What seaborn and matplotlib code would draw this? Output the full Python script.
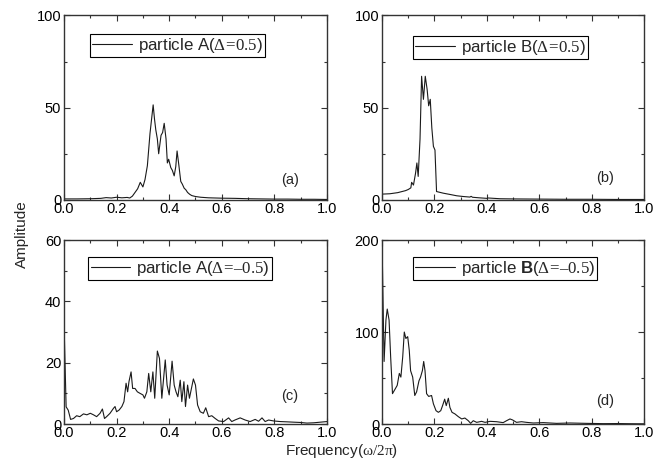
#imports
import numpy as np
import pandas as pd
import seaborn as sns
import matplotlib.pyplot as plt
from matplotlib.ticker import MultipleLocator

#spectra (frequency in units of omega/2pi)
freq_a = [0.00, 0.05, 0.10, 0.14, 0.16, 0.18, 0.20, 0.22, 0.24, 0.25, 0.26, 0.27, 0.28, 0.29,
          0.30, 0.308, 0.317, 0.327, 0.339, 0.344, 0.349, 0.355, 0.36, 0.369, 0.375, 0.381,
          0.388, 0.393, 0.398, 0.406, 0.412, 0.419, 0.425, 0.43, 0.437, 0.444, 0.45, 0.457,
          0.463, 0.47, 0.478, 0.486, 0.50, 0.52, 0.55, 0.60, 0.65, 0.70, 0.75, 0.80, 0.85,
          0.90, 0.95, 1.00]
amp_a = [0.5, 0.5, 0.6, 0.8, 1.2, 1.0, 1.4, 1.1, 1.3, 1.0, 2.0, 4.0, 6.0, 9.5,
         7.0, 11.0, 18.5, 36.0, 51.5, 44.0, 38.0, 33.0, 25.0, 35.0, 36.5, 41.5,
         33.0, 20.0, 22.0, 17.5, 16.0, 13.0, 18.0, 26.5, 18.5, 10.0, 8.5, 6.3,
         5.5, 4.0, 3.0, 2.3, 1.8, 1.4, 1.1, 0.9, 0.8, 0.6, 0.5, 0.4, 0.4,
         0.3, 0.3, 0.2]

freq_b = [0.00, 0.03, 0.06, 0.09, 0.10, 0.11, 0.113, 0.12, 0.128, 0.133, 0.138, 0.145, 0.151,
          0.158, 0.165, 0.172, 0.178, 0.184, 0.19, 0.196, 0.202, 0.208, 0.234, 0.26, 0.285,
          0.31, 0.335, 0.34, 0.345, 0.37, 0.40, 0.405, 0.45, 0.50, 0.60, 0.70, 0.80, 0.90, 1.00]
amp_b = [3.1, 3.3, 3.9, 5.0, 5.6, 6.5, 9.5, 8.0, 14.5, 20.0, 12.7, 33.0, 67.0,
         54.5, 67.0, 60.0, 51.0, 54.5, 39.0, 29.0, 27.0, 4.5, 3.6, 2.9, 2.2,
         1.8, 1.5, 1.9, 1.4, 1.1, 0.8, 1.0, 0.6, 0.5, 0.4, 0.3, 0.3, 0.2, 0.2]

freq_c = [0.00, 0.008, 0.016, 0.025, 0.036, 0.048, 0.06, 0.074, 0.087, 0.10, 0.112, 0.124,
          0.137, 0.146, 0.154, 0.162, 0.175, 0.188, 0.194, 0.20, 0.21, 0.22, 0.228, 0.236,
          0.242, 0.247, 0.255, 0.261, 0.27, 0.279, 0.289, 0.30, 0.306, 0.315, 0.322, 0.33,
          0.338, 0.345, 0.355, 0.363, 0.372, 0.385, 0.392, 0.40, 0.411, 0.419, 0.426, 0.433,
          0.442, 0.448, 0.456, 0.462, 0.47, 0.477, 0.492, 0.50, 0.508, 0.518, 0.53, 0.539,
          0.55, 0.562, 0.575, 0.588, 0.607, 0.626, 0.638, 0.65, 0.67, 0.689, 0.708, 0.727,
          0.74, 0.753, 0.765, 0.778, 0.797, 0.822, 0.85, 0.873, 0.90, 0.924, 0.95, 0.975, 1.00]
amp_c = [33.0, 5.6, 4.5, 1.5, 1.8, 2.7, 2.4, 3.3, 3.0, 3.5, 3.0, 2.4,
         3.5, 4.9, 1.8, 2.4, 3.5, 5.1, 5.7, 4.0, 4.6, 5.7, 7.3, 13.3,
         10.5, 13.8, 17.0, 11.6, 11.6, 10.5, 10.0, 9.5, 8.4, 10.5, 16.5, 10.5,
         17.0, 8.4, 23.8, 21.4, 8.4, 20.9, 12.7, 9.5, 20.5, 12.7, 10.5, 8.9,
         14.3, 7.3, 13.8, 5.7, 12.7, 8.4, 14.7, 12.7, 6.2, 4.0, 3.5, 5.3,
         2.4, 2.7, 1.8, 1.0, 0.8, 2.0, 0.8, 1.3, 2.0, 1.3, 0.8, 1.5,
         0.9, 2.0, 0.8, 1.3, 1.0, 0.8, 0.7, 0.6, 0.5, 0.3, 0.4, 0.6, 0.8]

freq_d = [0.00, 0.008, 0.015, 0.02, 0.027, 0.033, 0.04, 0.05, 0.058, 0.066, 0.072, 0.079,
          0.085, 0.091, 0.098, 0.104, 0.109, 0.117, 0.125, 0.132, 0.141, 0.147, 0.154, 0.159,
          0.164, 0.17, 0.178, 0.189, 0.196, 0.206, 0.215, 0.224, 0.231, 0.239, 0.245, 0.253,
          0.259, 0.267, 0.278, 0.291, 0.304, 0.316, 0.329, 0.338, 0.348, 0.361, 0.38, 0.393,
          0.412, 0.437, 0.462, 0.475, 0.488, 0.498, 0.513, 0.532, 0.551, 0.577, 0.615, 0.666,
          0.717, 0.78, 0.844, 0.90, 0.95, 1.00]
amp_d = [200.0, 68.0, 113.0, 125.0, 113.0, 73.0, 33.0, 38.0, 42.0, 55.0, 51.0, 73.0,
         100.0, 93.0, 95.0, 80.0, 58.0, 51.0, 31.0, 35.0, 47.0, 51.0, 58.0, 68.0,
         58.0, 33.0, 30.0, 31.0, 22.0, 14.5, 12.7, 14.5, 20.0, 27.0, 20.0, 28.0,
         18.0, 12.7, 11.0, 8.0, 5.5, 6.5, 3.6, 0.7, 3.6, 1.8, 2.9, 1.8,
         2.9, 2.5, 1.5, 3.6, 5.5, 4.4, 1.8, 2.5, 1.8, 1.1, 1.5, 0.7,
         1.1, 0.7, 0.4, 0.5, 0.3, 0.2]

labels = ['particle A($\\mathrm{\\Delta\\!=\\!0.5}$)', 'particle B($\\mathrm{\\Delta\\!=\\!0.5}$)',
          'particle A($\\mathrm{\\Delta\\!=\\!\u20130.5}$)', 'particle $\\mathbf{B}$($\\mathrm{\\Delta\\!=\\!\u20130.5}$)']
tags = ['(a)', '(b)', '(c)', '(d)']
ylims = [100, 100, 60, 200]
ymajor = [50, 50, 20, 100]

sns.set_style("ticks")
plt.rcParams['font.family'] = ['Liberation Sans', 'DejaVu Sans']
plt.rcParams['mathtext.fontset'] = 'custom'
plt.rcParams['mathtext.rm'] = 'Liberation Serif'
plt.rcParams['mathtext.it'] = 'Liberation Serif:italic'
plt.rcParams['mathtext.bf'] = 'Liberation Sans:bold'

fig = plt.figure(figsize=(6.69, 4.68), dpi=100)
#axes placed by pixel positions of the reference
boxes = [[0.0957, 0.573, 0.393, 0.394], [0.571, 0.573, 0.392, 0.394],
         [0.0957, 0.094, 0.393, 0.393], [0.571, 0.094, 0.392, 0.393]]
legend_pos = [(0.10, 0.90), (0.118, 0.888), (0.093, 0.91), (0.118, 0.91)]
tag_pos = [(0.86, 0.11), (0.85, 0.12), (0.86, 0.15), (0.85, 0.125)]

data = [(freq_a, amp_a), (freq_b, amp_b), (freq_c, amp_c), (freq_d, amp_d)]
for i, (f, a) in enumerate(data):
    ax = fig.add_axes(boxes[i])
    df = pd.DataFrame({'freq': f, 'amp': a})
    sns.lineplot(data=df, x='freq', y='amp', ax=ax, color='#1a1a1a', linewidth=0.8,
                 label=labels[i], sort=False)
    ax.set_xlim(0, 1)
    ax.set_ylim(0, ylims[i])
    ax.set_xlabel('')
    ax.set_ylabel('')
    ax.xaxis.set_major_locator(MultipleLocator(0.2))
    ax.xaxis.set_minor_locator(MultipleLocator(0.1))
    ax.yaxis.set_major_locator(MultipleLocator(ymajor[i]))
    ax.yaxis.set_minor_locator(MultipleLocator(ymajor[i] / 2))
    ax.xaxis.set_major_formatter(plt.FormatStrFormatter('%.1f'))
    ax.tick_params(which='both', direction='in', top=True, right=True, colors='#333333',
                   labelcolor='black', labelsize=10.5, width=0.8)
    ax.tick_params(which='major', length=4, pad=1.5)
    ax.tick_params(which='minor', length=2.5)
    ax.tick_params(axis='y', pad=2)
    for s in ax.spines.values():
        s.set_color('#333333')
        s.set_linewidth(1.0)
    leg = ax.legend(loc='upper left', bbox_to_anchor=legend_pos[i], fancybox=False,
                    edgecolor='black', framealpha=1, fontsize=12.2, handlelength=2.35,
                    borderpad=0.12, handletextpad=0.35, borderaxespad=0)
    leg.get_frame().set_linewidth(0.8)
    ax.text(tag_pos[i][0], tag_pos[i][1], tags[i], transform=ax.transAxes,
            ha='center', va='center', fontsize=10.5)

fig.text(0.033, 0.5, 'Amplitude', rotation=90, ha='center', va='center', fontsize=11)
fig.text(0.51, 0.036, r'Frequency($\mathrm{\omega/2\pi}$)', ha='center', va='center', fontsize=11)

fig.savefig('out.png', dpi=100)
